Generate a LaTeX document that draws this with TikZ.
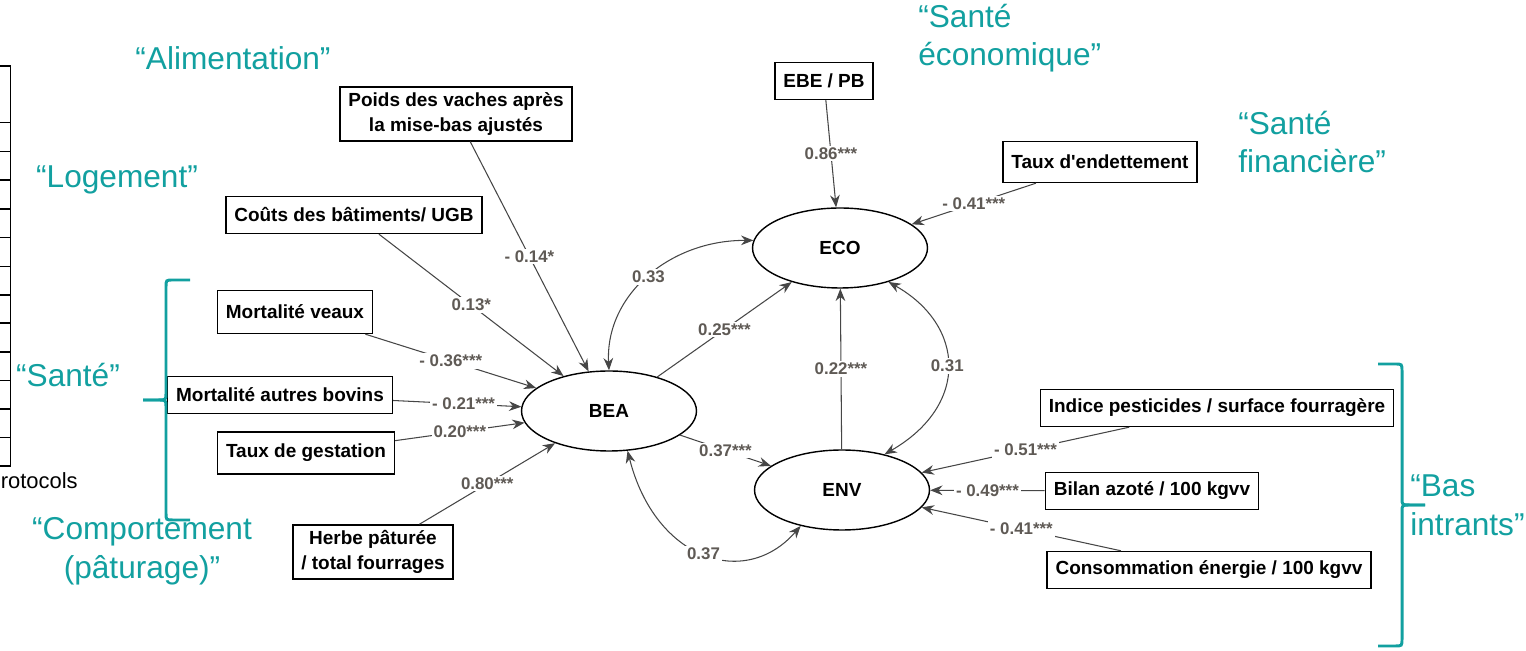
\documentclass[tikz,border=0pt]{standalone}
\usepackage{fontspec}
\setmainfont{Liberation Sans}
\usetikzlibrary{arrows.meta,shapes.geometric}
\definecolor{tealtxt}{RGB}{18,160,160}
\definecolor{wire}{RGB}{70,70,70}
\definecolor{coefgray}{RGB}{95,90,85}

\begin{document}
\begin{tikzpicture}[x=0.02cm,y=-0.02cm,
  obs/.style={draw,line width=0.8pt,font=\bfseries\fontsize{10.8}{13.8}\selectfont,align=center,inner xsep=0.17cm,minimum height=0.74cm},
  lat/.style={draw,ellipse,line width=0.8pt,font=\bfseries\fontsize{10.8}{13}\selectfont,minimum width=3.5cm,minimum height=1.6cm},
  reg/.style={wire,line width=0.6pt,-{Stealth[length=7pt,width=5.5pt]}},
  cov/.style={wire,line width=0.6pt,{Stealth[length=7pt,width=5.5pt]}-{Stealth[length=7pt,width=5.5pt]}},
  coef/.style={fill=white,inner sep=1pt,text=coefgray,font=\bfseries\fontsize{9.6}{11}\selectfont,pos=0.5},
  theme/.style={text=tealtxt,font=\fontsize{18}{22}\selectfont},
  brace/.style={tealtxt,line width=1.7pt},
  tbl/.style={black,line width=0.9pt}]
\useasboundingbox (0,0) rectangle (1526,651);

% table cut at the left edge
\draw[tbl] (0,66) -- (10.7,66) -- (10.7,466) -- (0,466);
\foreach \y in {122.7,151.7,180,209,237.7,266.7,295,323,352,380.7,409,437.7}{
  \draw[tbl] (0,\y) -- (10.7,\y);
}
\node[anchor=east,inner sep=0pt,font=\fontsize{12.5}{14}\selectfont] (proto) at (78,481) {Protocols};

% latent variables
\node[lat] (bea) at (609,411) {BEA};
\node[lat] (eco) at (840,248) {ECO};
\node[lat] (env) at (842,490) {ENV};

% indicators
\node[obs] (poids) at (456,114) {Poids des vaches après\\la mise-bas ajustés};
\node[obs] (couts) at (354,215) {Coûts des bâtiments/ UGB};
\node[obs,minimum height=0.86cm] (veaux) at (295,312) {Mortalité veaux};
\node[obs] (bovins) at (280,395) {Mortalité autres bovins};
\node[obs,minimum height=0.84cm] (gest) at (306,453) {Taux de gestation};
\node[obs] (herbe) at (373,552) {Herbe pâturée\\ / total fourrages};
\node[obs] (ebe) at (824,81) {EBE / PB};
\node[obs,minimum height=0.82cm] (endet) at (1100,162) {Taux d\textquotesingle endettement};
\node[obs] (pest) at (1217,408) {Indice pesticides / surface fourragère};
\node[obs] (azote) at (1152,491) {Bilan azoté / 100 kgvv};
\node[obs] (energ) at (1209,570) {Consommation énergie / 100 kgvv};

% paths to BEA
\draw[reg] (poids) -- node[coef] (c1) {- 0.14*} (bea);
\draw[reg] (couts) -- node[coef] (c2) {0.13*} (bea);
\draw[reg] (veaux) -- node[coef] (c3) {- 0.36***} (bea);
\draw[reg] (bovins) -- node[coef,pos=0.55] (c4) {- 0.21***} (bea);
\draw[reg] (gest) -- node[coef] (c5) {0.20***} (bea);
\draw[reg] (herbe) -- node[coef] (c6) {0.80***} (bea);

% paths to ECO
\draw[reg] (ebe) -- node[coef] (c7) {0.86***} (eco);
\draw[reg] (endet) -- node[coef] (c8) {- 0.41***} (eco);
\draw[reg] (bea) -- node[coef] (c9) {0.25***} (eco);
\draw[reg] (env) -- node[coef] (c10) {0.22***} (eco);

% paths to ENV
\draw[reg] (bea) -- node[coef] (c11) {0.37***} (env);
\draw[reg] (pest) -- node[coef] (c12) {- 0.51***} (env);
\draw[reg] (azote) -- node[coef] (c13) {- 0.49***} (env);
\draw[reg] (energ) -- node[coef] (c14) {- 0.41***} (env);

% covariances
\draw[cov] (bea.north) .. controls (605,295) and (670,240) .. node[coef] (c15) {0.33} (eco.175);
\draw[cov] (eco.-35) .. controls (965,325) and (970,405) .. node[coef] (c16) {0.31} (env.40);
\draw[cov] (bea.-65) .. controls (655,560) and (745,590) .. node[coef] (c17) {0.37} (env.-139);

% themes
\node[theme] (alim) at (233,58) {“Alimentation”};
\node[theme] (loge) at (117,180) {“Logement”};
\node[theme] (sante) at (68,375) {“Santé”};
\node[theme,align=center] (comport) at (142,551) {“Comportement\\(pâturage)”};
\node[theme,align=left,anchor=west,inner xsep=0pt] (seco) at (918,38) {“Santé\\économique”};
\node[theme,align=left,anchor=west,inner xsep=0pt] (sfin) at (1238,142) {“Santé\\financière”};
\node[theme,align=left,anchor=west,inner xsep=0pt] (bas) at (1410,505) {“Bas\\intrants”};

% braces
\draw[brace] (190,280) -- (173,280) to[bend right=0] (173,280) .. controls (166,280) .. (166,287) -- (166,393) .. controls (166,400) .. (158,400) -- (143,400);
\draw[brace] (143,400) -- (158,400) .. controls (166,400) .. (166,407) -- (166,513) .. controls (166,520) .. (173,520) -- (190,520);
\draw[brace] (1378,364) -- (1395,364) .. controls (1402,364) .. (1402,371) -- (1402,498) .. controls (1402,505) .. (1410,505) -- (1425,505);
\draw[brace] (1425,505) -- (1410,505) .. controls (1402,505) .. (1402,512) -- (1402,639) .. controls (1402,646) .. (1395,646) -- (1378,646);
\end{tikzpicture}
\end{document}
